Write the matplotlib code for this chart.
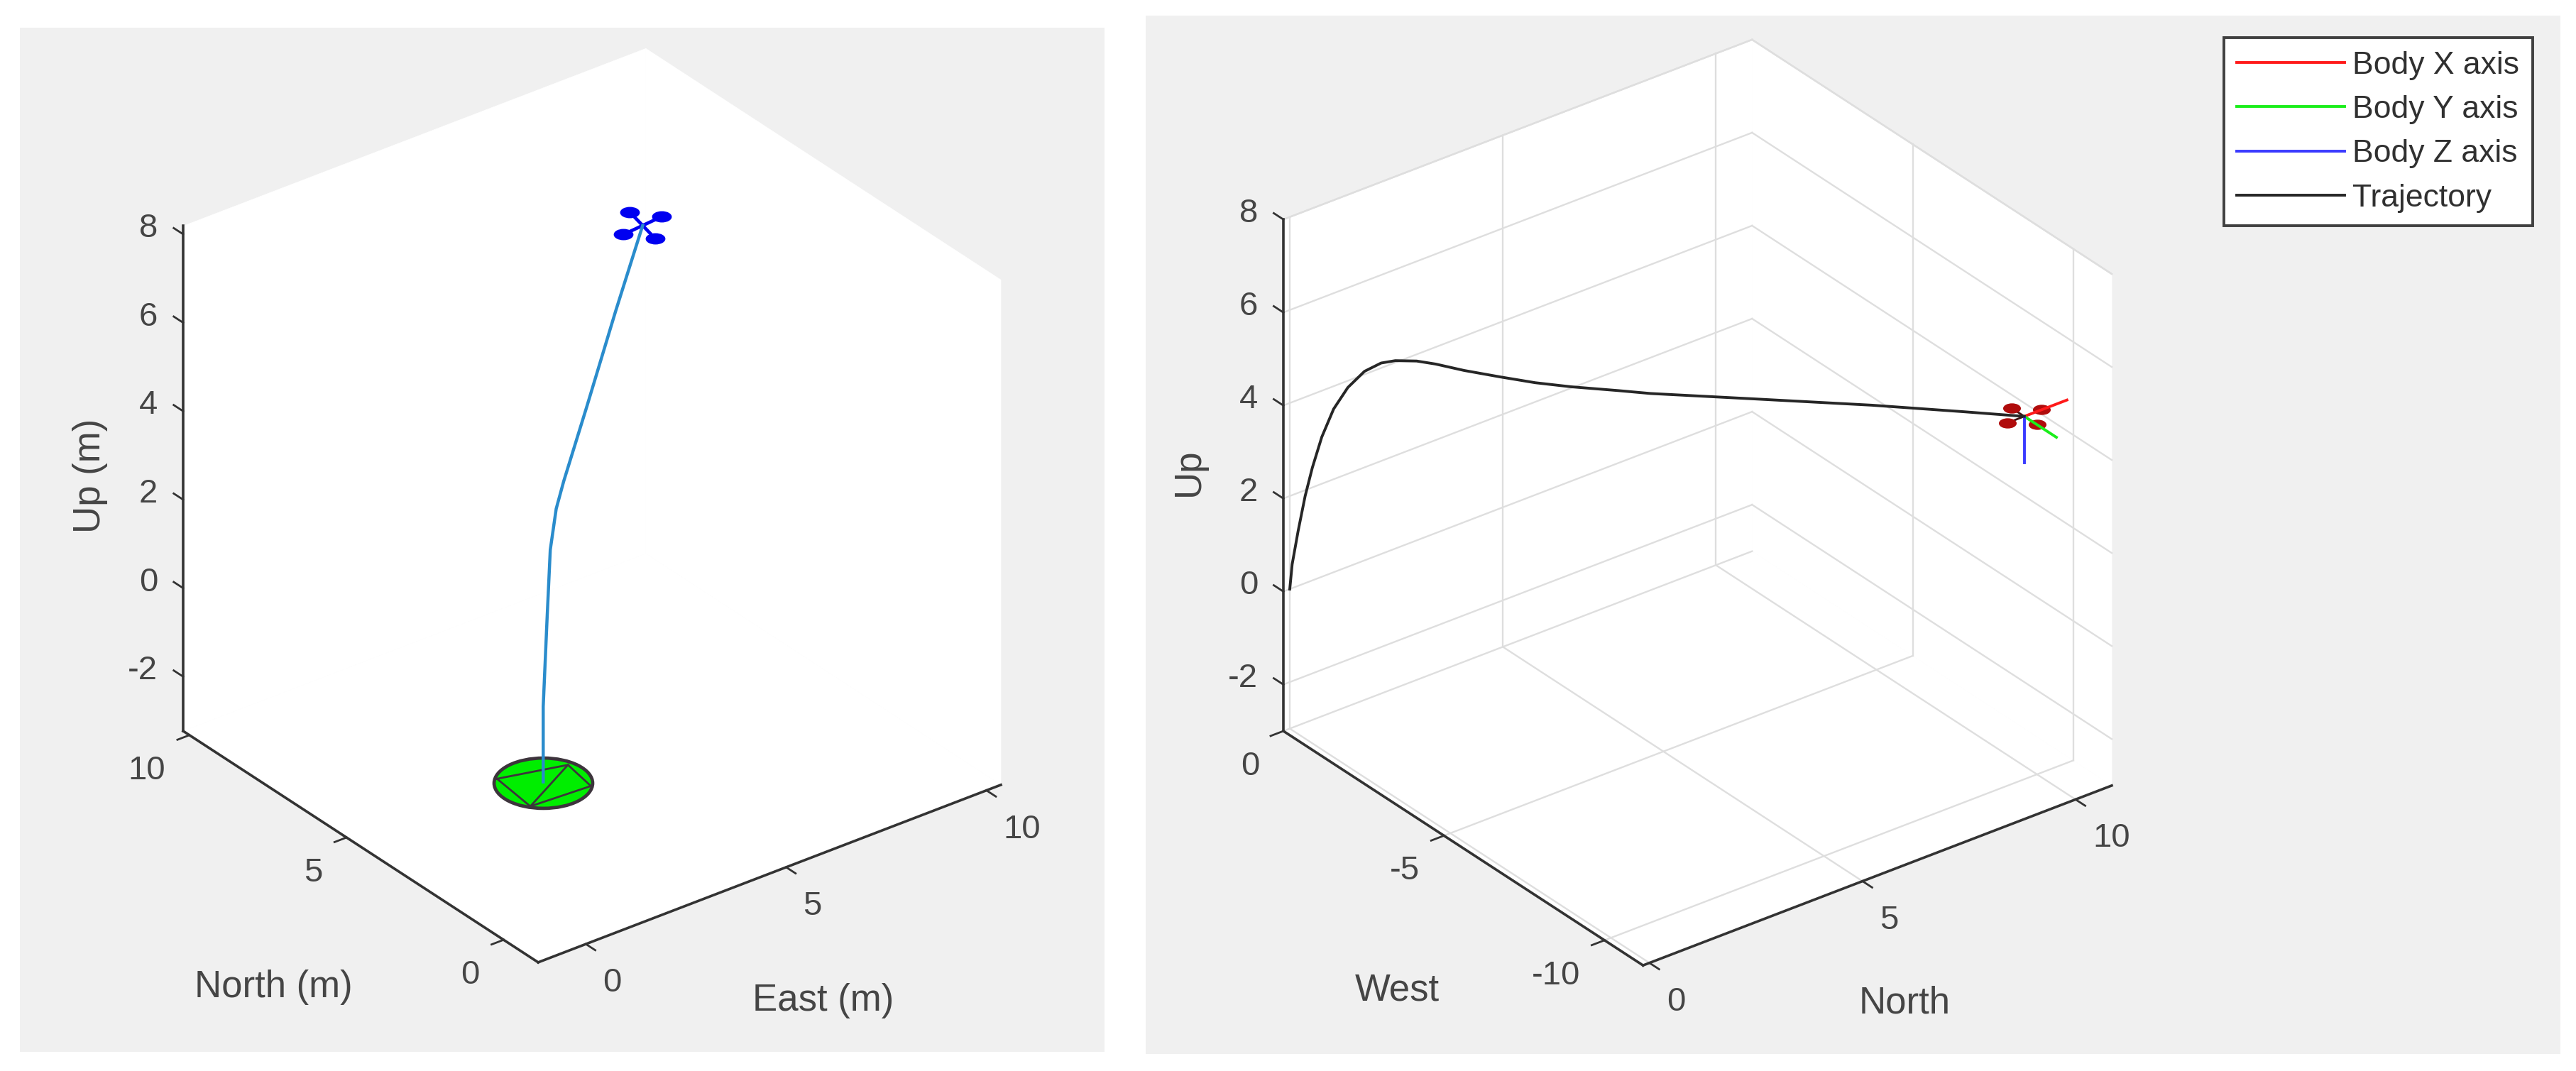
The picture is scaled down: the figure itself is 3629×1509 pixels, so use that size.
import matplotlib
matplotlib.use("Agg")
import matplotlib.pyplot as plt
from matplotlib.markers import MarkerStyle
from matplotlib.patches import Rectangle
from matplotlib.transforms import Affine2D
from mpl_toolkits.mplot3d import proj3d
from mpl_toolkits.mplot3d.art3d import Poly3DCollection

plt.rcParams["font.family"] = ["Liberation Sans", "DejaVu Sans"]

W, H = 3630, 1509
DARK = "#333333"
TEXT = "#454545"
GRID = "#dedede"

# -------------------------
# data, left plot (East, North, Up)
# -------------------------
left_xlim = (-1.19, 10.36)
left_ylim = (-1.1, 10.2)
left_zlim = (-3.23, 8.185)
left_xticks = [0, 5, 10]
left_yticks = [0, 5, 10]
zticks = [-2, 0, 2, 4, 6, 8]

path_east = [3.21, 3.21, 3.37, 3.52, 3.77, 4.09, 5.09, 6.34, 7.52]
path_north = [4.35, 4.35, 4.43, 4.52, 4.65, 4.82, 5.36, 6.04, 6.68]
path_up = [-3.2, -1.5, 0.41, 1.86, 2.64, 3.07, 4.16, 5.56, 6.8]

# landing pad: centre plus the mesh lines on it
pad_east = [3.21]
pad_north = [4.35]
pad_up = [-3.23]
mesh_east = [2.59, 4.04, 3.89, 2.45, 2.59]
mesh_north = [5.03, 4.62, 3.70, 3.79, 5.03]
mesh_diag_east = [4.04, 2.45]
mesh_diag_north = [4.62, 3.79]

# rotors around the last path point
rotor_east = [0.52, 0.12, -0.52, -0.12]
rotor_north = [0.05, 0.56, -0.05, -0.56]

# -------------------------
# data, right plot (North, West, Up)
# -------------------------
right_xlim = (-0.15, 10.85)
right_ylim = (-11.2, 0.0)
right_zlim = (-3.0, 8.0)
right_xticks = [0, 5, 10]
right_yticks = [0, -5, -10]

traj_north = [0.0, 0.032, 0.111, 0.206, 0.302, 0.428, 0.587, 0.777, 1.0, 1.222, 1.412, 1.698, 1.952,
              2.332, 2.808, 3.284, 3.76, 4.395, 4.83, 6.19, 7.79, 9.03, 9.83]
traj_west = [-v for v in traj_north]
traj_up = [0.0, 0.536, 1.253, 2.023, 2.64, 3.31, 3.93, 4.41, 4.78, 4.98, 5.05, 5.07, 5.03,
           4.93, 4.84, 4.76, 4.72, 4.70, 4.68, 4.70, 4.72, 4.70, 4.68]

quad_north = [0.4, 0.0, -0.4, 0.0]
quad_west = [0.0, 0.4, 0.0, -0.4]

legend_labels = ["Body X axis", "Body Y axis", "Body Z axis", "Trajectory"]


# -------------------------
# helpers
# -------------------------
def px_text(x, y, s, **kw):
    fig.text(x / W, 1 - y / H, s, ha="center", va="center", color=TEXT, **kw)


def fit_axes(ax, corner_a, corner_b, target_a, target_b):
    # size and shift the square axes so two box corners land on given pixels
    for _ in range(3):
        M = ax.get_proj()
        pts = []
        for c in (corner_a, corner_b):
            px, py, _z = proj3d.proj_transform(c[0], c[1], c[2], M)
            pts.append(ax.transData.transform((px, py)))
        pos = ax.get_position()
        scale = (target_b[0] - target_a[0]) / (pts[1][0] - pts[0][0])
        side = pos.width * W * scale
        ax.set_position([pos.x0, pos.y0, side / W, side / H])
        px, py, _z = proj3d.proj_transform(corner_a[0], corner_a[1], corner_a[2], ax.get_proj())
        now = ax.transData.transform((px, py))
        pos = ax.get_position()
        ax.set_position([pos.x0 + (target_a[0] - now[0]) / W,
                         pos.y0 + (H - target_a[1] - now[1]) / H,
                         pos.width, pos.height])


def tick_text(ax, x, y, z, s, dx, dy, ha):
    px, py, _z = proj3d.proj_transform(x, y, z, ax.get_proj())
    ax.annotate(s, (px, py), xytext=(dx, dy), textcoords="offset pixels", ha=ha, va="center",
                fontsize=34, color=TEXT, annotation_clip=False)


def draw_box(ax, xlim, ylim, zlim, xticks, yticks, zt, grid):
    x0, x1 = xlim
    y0, y1 = ylim
    z0, z1 = zlim

    # the three back faces
    faces = [
        [(x0, y0, z0), (x1, y0, z0), (x1, y1, z0), (x0, y1, z0)],
        [(x1, y0, z0), (x1, y1, z0), (x1, y1, z1), (x1, y0, z1)],
        [(x0, y1, z0), (x1, y1, z0), (x1, y1, z1), (x0, y1, z1)],
    ]
    ax.add_collection3d(Poly3DCollection(faces, facecolors="white", edgecolors="white", linewidths=0.5, zorder=1))

    if grid:
        kw = dict(color=GRID, lw=1.7, zorder=2)
        for t in xticks:
            ax.plot([t, t], [y1, y1], [z0, z1], **kw)
            ax.plot([t, t], [y0, y1], [z0, z0], **kw)
        for t in yticks:
            if t != y1:
                ax.plot([x1, x1], [t, t], [z0, z1], **kw)
            ax.plot([x0, x1], [t, t], [z0, z0], **kw)
        for t in zt:
            ax.plot([x0, x1], [y1, y1], [t, t], **kw)
            ax.plot([x1, x1], [y0, y1], [t, t], **kw)
        ax.plot([x0, x1], [y1, y1], [z1, z1], **kw)
        ax.plot([x1, x1], [y0, y1], [z1, z1], **kw)

    # the three drawn axes
    kw = dict(color=DARK, lw=2.6, zorder=3)
    ax.plot([x0, x0], [y1, y1], [z0, z1], **kw)
    ax.plot([x0, x0], [y0, y1], [z0, z0], **kw)
    ax.plot([x0, x1], [y0, y0], [z0, z0], **kw)

    tl = 0.3
    kw = dict(color=DARK, lw=2.0, zorder=3)
    for t in xticks:
        ax.plot([t, t], [y0, y0 - tl], [z0, z0], **kw)
        tick_text(ax, t, y0, z0, str(t), 24, -55, "left")
    for t in yticks:
        ax.plot([x0, x0 - tl], [t, t], [z0, z0], **kw)
        tick_text(ax, x0, t, z0, str(t), -34, -50, "right")
    for t in zt:
        ax.plot([x0, x0], [y1, y1 + tl], [t, t], **kw)
        tick_text(ax, x0, y1, t, str(t), -36, 8, "right")


def make_axes(xlim, ylim, zlim, target_a, target_b):
    ax = fig.add_axes([0.1, 0.1, 1000 / W, 1000 / H], projection="3d", computed_zorder=False)
    ax.set_proj_type("ortho")
    ax.view_init(elev=30, azim=-127.5)
    ax.set_box_aspect((1, 1, 1))
    ax.set_xlim(*xlim)
    ax.set_ylim(*ylim)
    ax.set_zlim(*zlim)
    ax.set_axis_off()
    ax.patch.set_visible(False)
    fit_axes(ax, (xlim[0], ylim[1], zlim[0]), (xlim[1], ylim[0], zlim[0]), target_a, target_b)
    ax.set_autoscale_on(False)
    return ax


# -------------------------
# figure and gray panels
# -------------------------
fig = plt.figure(figsize=(W / 100, H / 100), dpi=100, facecolor="white")
for x0, y0, x1, y1 in [(28, 39, 1556, 1482), (1614, 22, 3607, 1485)]:
    fig.add_artist(Rectangle((x0 / W, 1 - y1 / H), (x1 - x0) / W, (y1 - y0) / H, transform=fig.transFigure,
                             facecolor="#f0f0f0", edgecolor="none", zorder=-5))

# -------------------------
# left plot
# -------------------------
ax1 = make_axes(left_xlim, left_ylim, left_zlim, (258, 1030), (1410, 1102))
draw_box(ax1, left_xlim, left_ylim, left_zlim, left_xticks, left_yticks, zticks, False)

pad_marker = MarkerStyle("o", transform=Affine2D().scale(1, 0.51))
ax1.plot(pad_east, pad_north, pad_up, linestyle="none", marker=pad_marker, ms=100, mfc="#00ee00", mec="#3d343c",
         mew=3.4, zorder=4)
ax1.plot(mesh_east, mesh_north, [pad_up[0]] * len(mesh_east), color="#3d343c", lw=2.0, zorder=5)
ax1.plot(mesh_diag_east, mesh_diag_north, [pad_up[0]] * 2, color="#3d343c", lw=2.0, zorder=5)

blob = MarkerStyle("o", transform=Affine2D().scale(1, 0.55))
for de, dn in zip(rotor_east, rotor_north):
    ax1.plot([path_east[-1], path_east[-1] + de], [path_north[-1], path_north[-1] + dn], [path_up[-1]] * 2,
             color="#0000f0", lw=3.4, zorder=6)
    ax1.plot([path_east[-1] + de], [path_north[-1] + dn], [path_up[-1]], linestyle="none", marker=blob, ms=19,
             mfc="#0000f0", mec="#0000f0", zorder=6)
ax1.plot(path_east, path_north, path_up, color="#2a8ccc", lw=3.2, zorder=7)

px_text(1160, 1410, "East (m)", fontsize=38)
px_text(385, 1391, "North (m)", fontsize=38)
px_text(127, 670, "Up (m)", fontsize=38, rotation=90)

# -------------------------
# right plot
# -------------------------
ax2 = make_axes(right_xlim, right_ylim, right_zlim, (1808, 1030), (2975, 1102))
draw_box(ax2, right_xlim, right_ylim, right_zlim, right_xticks, right_yticks, zticks, True)

n_end, w_end, u_end = traj_north[-1], traj_west[-1], traj_up[-1]
for dn, dw in zip(quad_north, quad_west):
    ax2.plot([n_end, n_end + dn], [w_end, w_end + dw], [u_end, u_end], color="#401010", lw=2.0, zorder=5)
    ax2.plot([n_end + dn], [w_end + dw], [u_end], linestyle="none", marker=blob, ms=17, mfc="#b00c0c", mec="#b00c0c",
             zorder=5)

line_x, = ax2.plot([n_end, n_end + 1], [w_end, w_end], [u_end, u_end], color="#ff1a1a", lw=2.8, zorder=6)
line_y, = ax2.plot([n_end, n_end], [w_end, w_end - 1], [u_end, u_end], color="#1aee1a", lw=2.8, zorder=6)
line_z, = ax2.plot([n_end, n_end], [w_end, w_end], [u_end, u_end - 1], color="#3a3aff", lw=2.8, zorder=6)
line_t, = ax2.plot(traj_north, traj_west, traj_up, color="#262626", lw=2.8, zorder=7)

px_text(2683, 1414, "North", fontsize=38)
px_text(1968, 1395, "West", fontsize=38)
px_text(1675, 665, "Up", fontsize=38, rotation=90)

leg = fig.legend([line_x, line_y, line_z, line_t], legend_labels, loc="upper right",
                 bbox_to_anchor=(3568 / W, 1 - 53 / H), borderaxespad=0, fontsize=32, handlelength=3.42,
                 handletextpad=0.25, borderpad=0.42, labelspacing=0.48, fancybox=False, framealpha=1,
                 facecolor="white", edgecolor="#404040")
leg.get_frame().set_linewidth(2.8)
for t in leg.get_texts():
    t.set_color("#303030")

fig.savefig("out.png", dpi=100)
